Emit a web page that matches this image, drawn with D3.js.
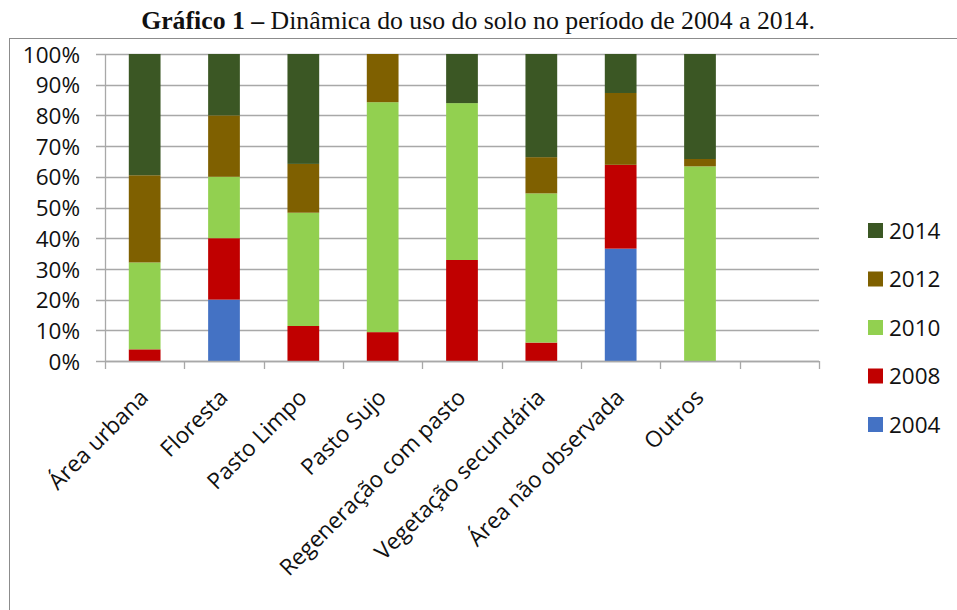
<!DOCTYPE html>
<html>
<head>
<meta charset="utf-8">
<script src="https://cdn.jsdelivr.net/npm/d3@7"></script>
<style>
  body { margin: 0; background: #fff; }
  svg { display: block; }
  .tick text, .lbl { font-family: "Open Sans", sans-serif; fill: #111; }
</style>
</head>
<body>
<script>
// categorias e séries (percentual de cada ano na coluna)
var categories = ['Área urbana', 'Floresta', 'Pasto Limpo', 'Pasto Sujo', 'Regeneração com pasto',
                  'Vegetação secundária', 'Área não observada', 'Outros'];
var years = ['2004', '2008', '2010', '2012', '2014'];
var v2004 = [0, 20, 0, 0, 0, 0, 36.6, 0];
var v2008 = [3.8, 20, 11.4, 9.4, 32.9, 6.0, 27.3, 0];
var v2010 = [28.3, 20, 36.9, 74.9, 51.1, 48.6, 0, 63.4];
var v2012 = [28.4, 20, 15.9, 15.7, 0, 11.8, 23.4, 2.4];
var v2014 = [39.5, 20, 35.8, 0, 16.0, 33.6, 12.7, 34.2];
var yTicks = [0, 10, 20, 30, 40, 50, 60, 70, 80, 90, 100];
var colors = ['#4472C4', '#C00000', '#92D050', '#7F6000', '#3B5724'];

function draw() {
   var width = 957, height = 610;
   var fs = '22.5px';
   var svg = d3.select('body').append('svg').attr('width', width).attr('height', height);

   // moldura
   svg.append('rect').attr('x', 9.5).attr('y', 38.5).attr('width', 1000).attr('height', 1000)
      .attr('fill', 'none').attr('stroke', '#8c8c8c');

   // título
   var title = svg.append('text').attr('x', 478).attr('y', 29).attr('text-anchor', 'middle')
      .style('font-family', '"Liberation Serif", serif').style('font-size', '22px').attr('fill', '#111');
   title.append('tspan').style('font-weight', 'bold').text('Gráfico 1 –');
   title.append('tspan').text(' Dinâmica do uso do solo no período de 2004 a 2014.');
   var tw = title.node().getComputedTextLength();
   title.style('font-size', (22 * 674 / tw) + 'px');

   // tabela para o d3.stack
   var series = [v2004, v2008, v2010, v2012, v2014];
   var table = categories.map(function (c, i) {
      var row = { cat: c };
      years.forEach(function (y, k) { row[y] = series[k][i]; });
      return row;
   });
   var stacked = d3.stack().keys(years).offset(d3.stackOffsetExpand)(table);

   var pL = 105, pR = 819, pT = 54, pB = 361;
   var slots = categories.concat(['']); // Excel deixou uma coluna vazia no fim
   var x = d3.scaleBand().domain(slots).range([pL, pR]).paddingInner(0).paddingOuter(0);
   var y = d3.scaleLinear().domain([0, 1]).range([pB, pT]);
   var barW = x.bandwidth() * 0.4;

   // grade
   svg.append('g').selectAll('line').data(yTicks).enter().append('line')
      .attr('x1', pL - 9).attr('x2', pR)
      .attr('y1', function (d) { return Math.round(y(d / 100)) + 0.5; })
      .attr('y2', function (d) { return Math.round(y(d / 100)) + 0.5; })
      .attr('stroke', '#a8a8a8').attr('stroke-width', 1.3);

   // eixo y (rótulos)
   var yAxis = d3.axisLeft(y).tickValues(yTicks.map(function (d) { return d / 100; }))
      .tickFormat(d3.format('.0%')).tickSize(0).tickPadding(0);
   var gy = svg.append('g').attr('transform', 'translate(80,0)').call(yAxis);
   gy.select('.domain').remove();
   gy.selectAll('text').style('font-size', fs).attr('dy', '0.36em');

   // linha do eixo y
   svg.append('line').attr('x1', pL + 0.5).attr('x2', pL + 0.5).attr('y1', pT).attr('y2', pB)
      .attr('stroke', '#a8a8a8').attr('stroke-width', 1.3);

   // barras
   svg.append('g').selectAll('g').data(stacked).enter().append('g')
      .attr('fill', function (d, i) { return colors[i]; })
      .selectAll('rect').data(function (d) { return d; }).enter().append('rect')
      .attr('x', function (d) { return x(d.data.cat) + (x.bandwidth() - barW) / 2; })
      .attr('width', barW)
      .attr('y', function (d) { return y(d[1]); })
      .attr('height', function (d) { return y(d[0]) - y(d[1]); });

   // eixo x
   var xTicks = slots.map(function (s) { return x(s); }).concat([pR]);
   svg.append('g').selectAll('line').data(xTicks).enter().append('line')
      .attr('x1', function (d) { return Math.round(d) + 0.5; })
      .attr('x2', function (d) { return Math.round(d) + 0.5; })
      .attr('y1', pB).attr('y2', pB + 8)
      .attr('stroke', '#a8a8a8').attr('stroke-width', 1.3);
   svg.append('line').attr('x1', pL).attr('x2', pR).attr('y1', pB + 0.5).attr('y2', pB + 0.5)
      .attr('stroke', '#a8a8a8').attr('stroke-width', 1.3);

   svg.append('g').selectAll('text').data(categories).enter().append('text')
      .attr('class', 'lbl')
      .attr('text-anchor', 'end')
      .style('font-size', fs)
      .attr('transform', function (d) {
         return 'translate(' + (x(d) + x.bandwidth() / 2 + 5) + ',' + 399 + ') rotate(-45)';
      })
      .text(function (d) { return d; });

   // legenda
   var legendYears = years.slice().reverse();
   var lg = svg.append('g').selectAll('g').data(legendYears).enter().append('g')
      .attr('transform', function (d, i) { return 'translate(868,' + (223 + i * 48.5) + ')'; });
   lg.append('rect').attr('width', 15).attr('height', 15)
      .attr('fill', function (d) { return colors[years.indexOf(d)]; });
   lg.append('text').attr('class', 'lbl').attr('x', 21).attr('y', 7.5).attr('dy', '0.36em')
      .style('font-size', fs).text(function (d) { return d; });
}
draw();
</script>
</body>
</html>
